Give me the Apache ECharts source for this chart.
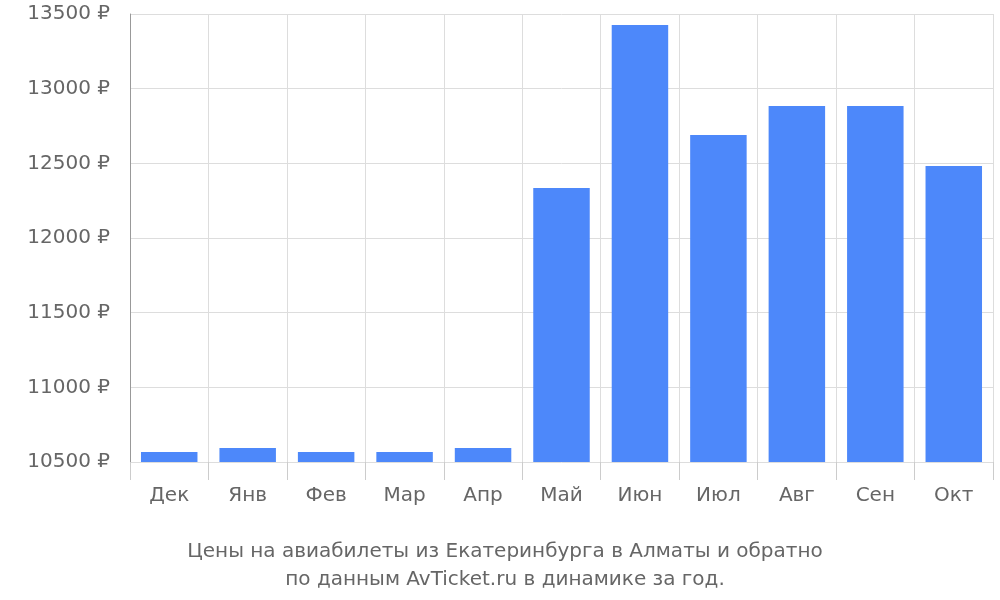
<!DOCTYPE html>
<html><head><meta charset="utf-8">
<script src="https://cdn.jsdelivr.net/npm/echarts@6/dist/echarts.min.js"></script>
<style>html,body{margin:0;padding:0;background:#fff}#main{width:1000px;height:600px}</style>
</head><body><div id="main"></div>
<script>
var months = ['Дек', 'Янв', 'Фев', 'Мар', 'Апр', 'Май', 'Июн', 'Июл', 'Авг', 'Сен', 'Окт'];
var prices = [10567, 10594, 10567, 10567, 10594, 12335, 13427, 12690, 12884, 12884, 12482];
var yTicks = [10500, 11000, 11500, 12000, 12500, 13000, 13500];

var myChart = echarts.init(document.getElementById('main'));
myChart.setOption({
    animation: false,
    textStyle: { fontFamily: 'DejaVu Sans' },
    title: {
        text: 'Цены на авиабилеты из Екатеринбурга в Алматы и обратно\nпо данным AvTicket.ru в динамике за год.',
        left: 500, textAlign: 'center', top: 533,
        textStyle: { color: '#666', fontSize: 20, fontWeight: 'normal', lineHeight: 28, fontFamily: 'DejaVu Sans' }
    },
    grid: { left: 130, right: 7, top: 14, bottom: 138 },
    xAxis: {
        type: 'category', data: months,
        axisLine: { show: false },
        axisTick: { show: true, length: 18, lineStyle: { color: '#ccc' } },
        axisLabel: { color: '#666', fontSize: 20, margin: 24 },
        splitLine: { show: true, lineStyle: { color: '#ddd' } }
    },
    yAxis: {
        type: 'value', min: yTicks[0], max: yTicks[yTicks.length - 1], interval: 500,
        axisLine: { show: true, lineStyle: { color: '#999' } },
        axisTick: { show: false },
        axisLabel: { color: '#666', fontSize: 20, margin: 20, formatter: function (v) { return v + ' ₽'; } },
        splitLine: { lineStyle: { color: '#ddd' } }
    },
    series: [{
        type: 'bar', data: prices, barWidth: '72%',
        itemStyle: { color: '#4d88fa' }
    }]
});
</script></body></html>
